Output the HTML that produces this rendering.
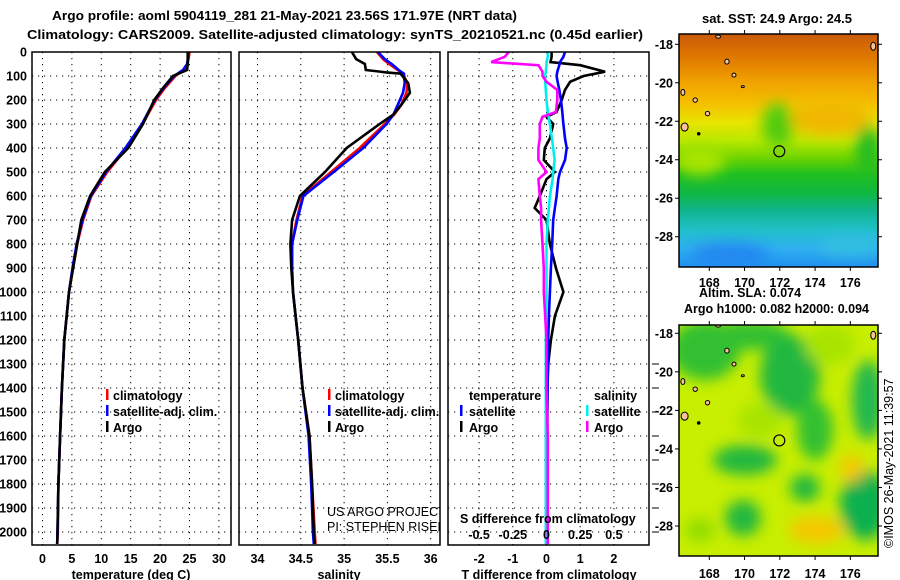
<!DOCTYPE html>
<html><head><meta charset="utf-8"><style>
html,body{margin:0;padding:0;background:#fff;}
svg{display:block;font-family:"Liberation Sans",sans-serif;}
.b{font-weight:bold;font-size:12.5px;}
</style></head><body>
<svg id="root" width="900" height="580" viewBox="0 0 900 580" xmlns="http://www.w3.org/2000/svg">
<defs>
<linearGradient id="sstg" x1="0" y1="0" x2="0" y2="1">
<stop offset="0" stop-color="#c85a08"/><stop offset="0.1" stop-color="#e07800"/>
<stop offset="0.2" stop-color="#f0a000"/><stop offset="0.3" stop-color="#f5c000"/>
<stop offset="0.38" stop-color="#e8e400"/><stop offset="0.46" stop-color="#b8e800"/>
<stop offset="0.53" stop-color="#70d400"/><stop offset="0.6" stop-color="#20c020"/>
<stop offset="0.68" stop-color="#10b840"/><stop offset="0.76" stop-color="#10b490"/>
<stop offset="0.84" stop-color="#20c0c8"/><stop offset="0.92" stop-color="#30b0f0"/>
<stop offset="1" stop-color="#2090f0"/></linearGradient>
<filter id="blur" x="-50%" y="-50%" width="200%" height="200%"><feGaussianBlur stdDeviation="7"/></filter>
<clipPath id="c1"><rect x="679" y="34" width="199" height="233"/></clipPath>
<clipPath id="c2"><rect x="679" y="325" width="199" height="231"/></clipPath>
<clipPath id="p1"><rect x="32" y="52" width="199" height="493"/></clipPath>
<clipPath id="p2"><rect x="239" y="52" width="201" height="493"/></clipPath>
<clipPath id="p3"><rect x="448" y="52" width="201" height="493"/></clipPath>
</defs>

<text class="b" x="52" y="20" font-size="13.5" textLength="465" lengthAdjust="spacingAndGlyphs">Argo profile: aoml 5904119_281 21-May-2021 23.56S 171.97E (NRT data)</text>
<text class="b" x="27" y="39" font-size="13.5" textLength="616" lengthAdjust="spacingAndGlyphs">Climatology: CARS2009. Satellite-adjusted climatology: synTS_20210521.nc (0.45d earlier)</text>

<g id="grids"></g>
<g id="series"></g>
<g id="frames" fill="none" stroke="#000" stroke-width="1.5">
<rect x="32" y="52" width="199" height="493"/>
<rect x="239" y="52" width="201" height="493"/>
<rect x="448" y="52" width="201" height="493"/>
</g>
<g id="labels"></g>

<g class="b">
<rect x="106" y="389" width="2.5" height="11" fill="#f00"/><text x="113" y="400">climatology</text>
<rect x="106" y="405" width="2.5" height="11" fill="#00f"/><text x="113" y="416">satellite-adj. clim.</text>
<rect x="106" y="421" width="2.5" height="11" fill="#000"/><text x="113" y="432">Argo</text>
</g>
<g class="b">
<rect x="328" y="389" width="2.5" height="11" fill="#f00"/><text x="335" y="400">climatology</text>
<rect x="328" y="405" width="2.5" height="11" fill="#00f"/><text x="335" y="416">satellite-adj. clim.</text>
<rect x="328" y="421" width="2.5" height="11" fill="#000"/><text x="335" y="432">Argo</text>
</g>
<g class="b">
<text x="469" y="400">temperature</text><text x="594" y="400">salinity</text>
<rect x="460" y="405" width="2.5" height="11" fill="#00f"/><text x="469" y="416">satellite</text>
<rect x="460" y="421" width="2.5" height="11" fill="#000"/><text x="469" y="432">Argo</text>
<rect x="586" y="405" width="2.5" height="11" fill="#0ee"/><text x="594" y="416">satellite</text>
<rect x="586" y="421" width="2.5" height="11" fill="#f0f"/><text x="594" y="432">Argo</text>
</g>
<g clip-path="url(#p2)" font-size="12.5" fill="#000">
<text x="327" y="516">US ARGO PROJECT</text>
<text x="327" y="531">PI: STEPHEN RISER</text>
</g>
<text class="b" x="460" y="523">S difference from climatology</text>

<text class="b" x="702" y="23" textLength="150" lengthAdjust="spacingAndGlyphs">sat. SST: 24.9 Argo: 24.5</text>
<g clip-path="url(#c1)">
<rect x="679" y="34" width="199" height="233" fill="url(#sstg)"/>
<g filter="url(#blur)">
<ellipse cx="778" cy="125" rx="16" ry="22" fill="#50cc10"/>
<ellipse cx="830" cy="118" rx="40" ry="18" fill="#f0b800"/>
<ellipse cx="868" cy="150" rx="12" ry="25" fill="#20bc20"/>
<ellipse cx="700" cy="160" rx="25" ry="15" fill="#a8e400"/>
<ellipse cx="730" cy="255" rx="40" ry="12" fill="#2088f0"/>
<ellipse cx="850" cy="245" rx="30" ry="10" fill="#30c0e0"/>
</g>
<g id="isl1"></g>
</g>
<text class="b" x="750" y="297" text-anchor="middle">Altim. SLA: 0.074</text>
<text class="b" x="684" y="313" textLength="185" lengthAdjust="spacingAndGlyphs">Argo h1000: 0.082 h2000: 0.094</text>
<g clip-path="url(#c2)">
<rect x="679" y="325" width="199" height="231" fill="#c8ee00"/>
<g filter="url(#blur)">
<ellipse cx="705" cy="350" rx="35" ry="30" fill="#30c030"/>
<ellipse cx="750" cy="335" rx="40" ry="15" fill="#30c030"/>
<ellipse cx="790" cy="375" rx="30" ry="40" fill="#20b840"/>
<ellipse cx="815" cy="430" rx="18" ry="30" fill="#30c030"/>
<ellipse cx="760" cy="420" rx="22" ry="18" fill="#a8e400"/>
<ellipse cx="745" cy="460" rx="32" ry="15" fill="#20b840"/>
<ellipse cx="805" cy="488" rx="15" ry="14" fill="#20b840"/>
<ellipse cx="868" cy="400" rx="16" ry="40" fill="#20b850"/>
<ellipse cx="865" cy="505" rx="25" ry="35" fill="#10b050"/>
<ellipse cx="743" cy="518" rx="18" ry="18" fill="#20b840"/>
<ellipse cx="817" cy="530" rx="28" ry="14" fill="#f5c800"/>
<ellipse cx="852" cy="468" rx="12" ry="14" fill="#f5c800"/>
<ellipse cx="700" cy="530" rx="15" ry="12" fill="#90dc00"/>
<ellipse cx="830" cy="345" rx="25" ry="20" fill="#a8e400"/>
</g>
<g id="isl2"></g>
</g>
<g id="maps-extra"></g>
<text font-size="12.5" transform="translate(893,548) rotate(-90)">©IMOS 26-May-2021 11:39:57</text>

<script>
var tDepth = [0,50,75,100,150,200,300,400,500,600,700,800,900,1000,1200,1400,1600,1800,2000,2050];
var tArgo  = [24.7,24.7,24.6,22.2,20.5,19.0,17.1,14.6,10.6,8.1,6.6,5.9,5.2,4.5,3.7,3.3,3.0,2.7,2.55,2.5];
var tClim  = [25.0,24.7,24.0,22.6,20.8,19.3,17.0,14.3,11.0,8.3,6.9,5.9,5.2,4.5,3.7,3.3,3.0,2.7,2.6,2.5];
var tSat   = [24.9,24.6,23.9,22.4,20.6,19.1,16.9,14.1,10.8,8.2,6.8,5.8,5.1,4.5,3.7,3.3,3.0,2.7,2.55,2.5];
var sDepth = [0,30,50,75,85,90,130,170,220,260,300,400,500,600,700,800,900,1000,1200,1400,1600,1800,2000,2050];
var sArgo  = [35.09,35.14,35.24,35.25,35.49,35.65,35.74,35.76,35.66,35.57,35.41,35.03,34.78,34.49,34.40,34.38,34.39,34.41,34.47,34.52,34.60,34.63,34.65,34.66];
var sClim  = [35.38,35.45,35.52,35.62,35.66,35.68,35.73,35.72,35.66,35.58,35.47,35.18,34.85,34.52,34.45,34.40,34.40,34.41,34.47,34.52,34.60,34.63,34.66,34.67];
var sSat   = [35.39,35.47,35.55,35.63,35.67,35.69,35.70,35.68,35.62,35.57,35.49,35.22,34.88,34.53,34.46,34.40,34.40,34.41,34.47,34.52,34.59,34.62,34.64,34.65];
var dDepth = [0,20,42,55,82,100,124,158,200,250,270,300,360,400,450,500,530,600,650,700,800,900,1000,1100,1200,1300,1400,1600,1800,2000,2050];
var dTArgo = [0.15,0.15,0.12,1.0,1.74,1.1,0.7,0.55,0.45,0.3,0.0,0.2,0.1,-0.05,-0.08,0.25,0.0,-0.2,-0.35,0.0,0.1,0.28,0.5,0.25,0.13,0.05,0.03,0.02,0.01,0.0,0.0];
var dTSat  = [0.55,0.5,0.4,0.38,0.32,0.3,0.33,0.38,0.43,0.47,0.48,0.5,0.55,0.6,0.55,0.4,0.35,0.3,0.25,0.2,0.17,0.13,0.1,0.07,0.05,0.04,0.03,0.02,0.01,0.0,0.0];
var dSArgo = [-0.28,-0.31,-0.41,-0.06,-0.03,-0.03,0.0,0.08,0.08,0.07,-0.03,-0.05,-0.05,-0.06,-0.06,0.0,-0.06,-0.05,-0.04,-0.04,-0.03,-0.02,-0.02,-0.01,0.0,0.0,0.0,0.01,0.01,0.01,0.01];
var dSSat  = [0.01,0.01,0.0,0.0,-0.005,-0.01,-0.01,-0.005,0.0,0.01,0.015,0.025,0.04,0.05,0.06,0.05,0.045,0.025,0.018,0.01,0.0,0.0,0.0,0.0,-0.005,-0.005,-0.005,-0.005,-0.005,-0.005,-0.005];
var depthTicks = [0,100,200,300,400,500,600,700,800,900,1000,1100,1200,1300,1400,1500,1600,1700,1800,1900,2000];
var tempTicks = [0,5,10,15,20,25,30];
var salTicks = [34,34.5,35,35.5,36];
var salTickLabels = ["34","34.5","35","35.5","36"];
var tdTicks = [-2,-1,0,1,2];
var sdTicks = [-0.5,-0.25,0,0.25,0.5];
var sdTickLabels = ["-0.5","-0.25","0","0.25","0.5"];
var latTicks = [-18,-20,-22,-24,-26,-28];
var lonTicks = [168,170,172,174,176];
var argoLon = 171.97, argoLat = -23.56;

var NS='http://www.w3.org/2000/svg';
function yD(d){return 52+0.24*d;}
function xT(t){return 42.5+5.88*t;}
function xS(s){return 257.5+86.6*(s-34);}
function xTD(v){return 546.5+33.7*v;}
function xSD(v){return 546.5+134.8*v;}
function lonX(l){return 709.3+17.63*(l-168);}
function latY1(a){return 44.3+19.24*(-18-a);}
function latY2(a){return 333.3+19.27*(-18-a);}
function mk(tag,attrs,parent,txt){var e=document.createElementNS(NS,tag);for(var k in attrs)e.setAttribute(k,attrs[k]);if(txt!==undefined)e.textContent=txt;parent.appendChild(e);return e;}
var G=document.getElementById('grids'),S=document.getElementById('series'),L=document.getElementById('labels'),M=document.getElementById('maps-extra');
var dot={stroke:'#000','stroke-width':1,'stroke-dasharray':'1.2 4.8'};
function vline(x,y1,y2){var e=mk('line',{x1:x,x2:x,y1:y1,y2:y2},G);for(var k in dot)e.setAttribute(k,dot[k]);return e;}
function hline(y,x1,x2){var e=mk('line',{x1:x1,x2:x2,y1:y,y2:y},G);for(var k in dot)e.setAttribute(k,dot[k]);return e;}
var panels=[[32,231],[239,440],[448,649]];
depthTicks.forEach(function(d){
  if(d>0){panels.forEach(function(p){
    var g=hline(yD(d),p[0],p[1]);
    
    
  });}
  var t=mk('text',{x:27,y:yD(d)+4.5,'text-anchor':'end','class':'b'},L,String(d));
  
  
  if(d>=1300){var tk=mk('line',{x1:652,x2:659,y1:yD(d),y2:yD(d),stroke:'#000','stroke-width':1},L);
    
    }
});
function xAxis(ticks,labels,fx,x0){
  ticks.forEach(function(v,i){
    var x=fx(v);
    if(x>x0+3){var g=vline(x,52,545);
      
      }
    var t=mk('text',{x:x,y:563,'text-anchor':'middle','class':'b'},L,labels?labels[i]:String(v));
    
    
  });
}
xAxis(tempTicks,null,xT,32);
xAxis(salTicks,salTickLabels,xS,239);
xAxis(tdTicks,null,xTD,448);
sdTicks.forEach(function(v,i){
  var t=mk('text',{x:xSD(v),y:539,'text-anchor':'middle','class':'b'},L,sdTickLabels[i]);
  
  
});
[['temperature (deg C)',131,'temperature-axis-title'],['salinity',339,'salinity-axis-title'],['T difference from climatology',549,'t-difference-axis-title']].forEach(function(a){
  var t=mk('text',{x:a[1],y:579,'text-anchor':'middle','class':'b'},L,a[0]);
  
  
});

function line(vals,depths,fx,color,clip,name){
  var pts=vals.map(function(v,i){return fx(v).toFixed(1)+','+yD(depths[i]).toFixed(1);}).join(' ');
  var e=mk('polyline',{points:pts,fill:'none',stroke:color,'stroke-width':2.6,'stroke-linejoin':'miter','clip-path':'url(#'+clip+')'},S);
  
  
}
line(tClim,tDepth,xT,'#f00','p1','temperature-climatology-line');
line(tSat,tDepth,xT,'#00f','p1','temperature-satellite-line');
line(tArgo,tDepth,xT,'#000','p1','temperature-argo-line');
line(sClim,sDepth,xS,'#f00','p2','salinity-climatology-line');
line(sSat,sDepth,xS,'#00f','p2','salinity-satellite-line');
line(sArgo,sDepth,xS,'#000','p2','salinity-argo-line');
line(dTArgo,dDepth,xTD,'#000','p3','t-diff-argo-line');
line(dTSat,dDepth,xTD,'#00f','p3','t-diff-satellite-line');
line(dSSat,dDepth,xSD,'#0ee','p3','s-diff-satellite-line');
line(dSArgo,dDepth,xSD,'#f0f','p3','s-diff-argo-line');

function mapAxes(y0,y1,latY,lonLabelY,tag,islG){
  mk('rect',{x:679,y:y0,width:199,height:y1-y0,fill:'none',stroke:'#000','stroke-width':1.5},M);
  latTicks.forEach(function(a){
    var y=latY(a);
    mk('line',{x1:675,x2:679,y1:y,y2:y,stroke:'#000'},M);
    mk('line',{x1:878,x2:882,y1:y,y2:y,stroke:'#000'},M);
    var t=mk('text',{x:673,y:y+4.5,'text-anchor':'end','class':'b'},M,String(a));
    
    
  });
  lonTicks.forEach(function(l){
    var x=lonX(l);
    mk('line',{x1:x,x2:x,y1:y0-4,y2:y0,stroke:'#000'},M);
    mk('line',{x1:x,x2:x,y1:y1,y2:y1+4,stroke:'#000'},M);
    var t=mk('text',{x:x,y:lonLabelY,'text-anchor':'middle','class':'b'},M,String(l));
    
    
  });
  var isl=[[166.6,-22.3,3.5,4],[166.5,-20.5,2,3],[169.0,-18.9,2.2,2.5],[169.4,-19.6,2,2],[169.9,-20.2,1.5,1],[167.2,-20.9,2.2,2.2],[167.9,-21.6,2.2,2.2],[177.3,-18.1,2.5,4],[168.5,-17.6,2.5,1.5]];
  isl.forEach(function(s){mk('ellipse',{cx:lonX(s[0]),cy:latY(s[1]),rx:s[2],ry:s[3],fill:'#f6c29c',stroke:'#000','stroke-width':1},islG);});
  mk('circle',{cx:lonX(167.4),cy:latY(-22.65),r:1.8,fill:'#000'},islG);
  var c=mk('circle',{cx:lonX(argoLon),cy:latY(argoLat),r:5.5,fill:'none',stroke:'#000','stroke-width':1.2},M);
  
  
}
mapAxes(34,267,latY1,287,'sst-map',document.getElementById('isl1'));
mapAxes(325,556,latY2,578,'sla-map',document.getElementById('isl2'));
</script>
</svg>
</body></html>
